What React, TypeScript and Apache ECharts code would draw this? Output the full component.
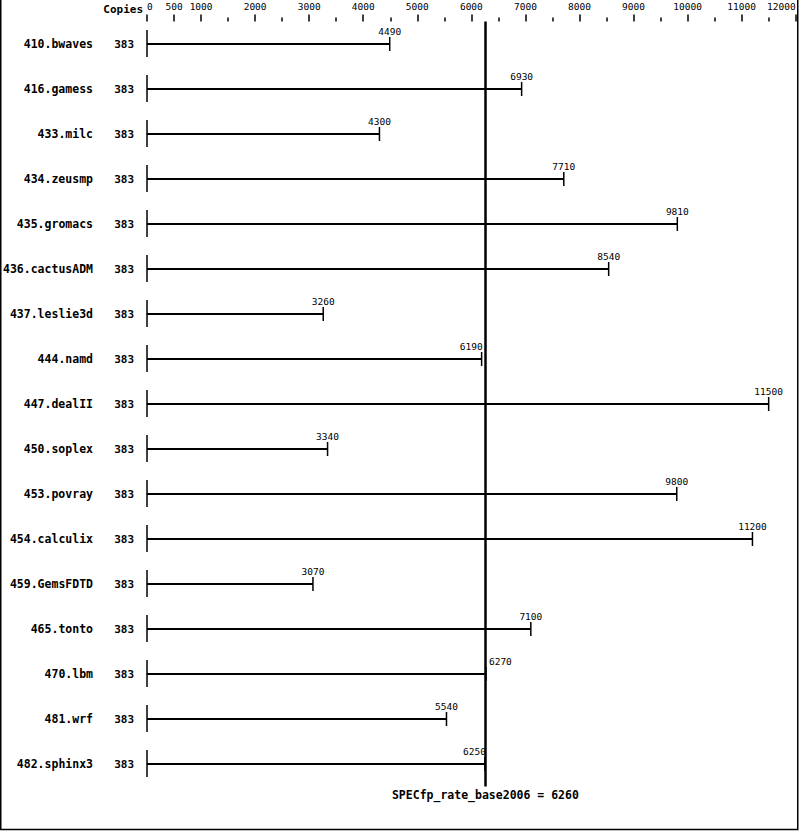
import React, { useEffect, useRef } from 'react';
import * as echarts from 'echarts';

const benchmarks = [
  '410.bwaves', '416.gamess', '433.milc', '434.zeusmp', '435.gromacs', '436.cactusADM',
  '437.leslie3d', '444.namd', '447.dealII', '450.soplex', '453.povray', '454.calculix',
  '459.GemsFDTD', '465.tonto', '470.lbm', '481.wrf', '482.sphinx3',
];
const copies = [383, 383, 383, 383, 383, 383, 383, 383, 383, 383, 383, 383, 383, 383, 383, 383, 383];
const ratios = [4490, 6930, 4300, 7710, 9810, 8540, 3260, 6190, 11500, 3340, 9800, 11200, 3070, 7100, 6270, 5540, 6250];
const tickLabels = [0, 500, 1000, 2000, 3000, 4000, 5000, 6000, 7000, 8000, 9000, 10000, 11000, 12000];
const minorTicks = [1500, 2500, 3500, 4500, 5500, 6500, 7500, 8500, 9500, 10500, 11500];
const baseScore = 6260;
const scoreName = 'SPECfp_rate_base2006';

const MONO = '"DejaVu Sans Mono", "Liberation Mono", monospace';

const App = () => {
  const chartRef = useRef<HTMLDivElement>(null);

  useEffect(() => {
    document.body.style.margin = '0';
    if (!chartRef.current) return;
    const chart = echarts.init(chartRef.current, undefined, { renderer: 'svg' });

    chart.setOption({
      animation: false,
      backgroundColor: '#fff',
      grid: { left: 147, right: 3.3, top: 21.5, bottom: 831 - 786.5 },
      xAxis: [
        {
          type: 'value',
          position: 'top',
          min: 0,
          max: 12000,
          axisLine: { show: false },
          splitLine: { show: false },
          axisTick: { show: true, customValues: tickLabels, length: 7, lineStyle: { color: '#000', width: 1.5 } },
          axisLabel: {
            customValues: tickLabels,
            margin: 10,
            color: '#000',
            fontFamily: MONO,
            fontSize: 9.5,
            alignMinLabel: 'left',
            alignMaxLabel: 'right',
            formatter: (v: number) => String(v),
          },
        },
        {
          type: 'value',
          position: 'top',
          min: 0,
          max: 12000,
          axisLine: { show: false },
          splitLine: { show: false },
          axisTick: { show: true, customValues: minorTicks, length: 4, lineStyle: { color: '#000', width: 1.5 } },
          axisLabel: { show: false },
        },
      ],
      yAxis: [
        {
          type: 'category',
          inverse: true,
          data: benchmarks,
          axisLine: { show: false },
          axisTick: { show: false },
          splitLine: { show: false },
          axisLabel: { margin: 54, color: '#000', fontFamily: MONO, fontSize: 11.5, fontWeight: 'bold' },
        },
        {
          type: 'category',
          inverse: true,
          position: 'left',
          data: benchmarks,
          axisLine: { show: false },
          axisTick: { show: false },
          splitLine: { show: false },
          axisLabel: {
            margin: 13,
            color: '#000',
            fontFamily: MONO,
            fontSize: 11,
            fontWeight: 'bold',
            formatter: (_v: string, i: number) => String(copies[i]),
          },
        },
      ],
      series: [
        {
          type: 'custom',
          xAxisIndex: 0,
          yAxisIndex: 0,
          data: ratios.map((v, i) => [v, i]),
          renderItem: (_params: any, api: any) => {
            const v = api.value(0);
            const c = api.value(1);
            const s = api.coord([0, c]);
            const e = api.coord([v, c]);
            let align = 'center';
            let tx = e[0];
            if (Math.abs(v - baseScore) < 300) {
              if (v < baseScore) { align = 'right'; tx = e[0] + 1; }
              else { align = 'left'; tx = e[0] + 3; }
            }
            return {
              type: 'group',
              children: [
                { type: 'line', shape: { x1: s[0], y1: s[1] - 14, x2: s[0], y2: s[1] + 13 }, style: { stroke: '#000', lineWidth: 1.5 } },
                { type: 'line', shape: { x1: s[0], y1: s[1], x2: e[0], y2: e[1] }, style: { stroke: '#000', lineWidth: 2 } },
                { type: 'line', shape: { x1: e[0], y1: e[1] - 7, x2: e[0], y2: e[1] + 7 }, style: { stroke: '#000', lineWidth: 1.5 } },
                {
                  type: 'text',
                  x: tx,
                  y: e[1] - 12.5,
                  style: {
                    text: String(v),
                    fill: '#000',
                    font: `9.5px ${MONO}`,
                    textAlign: align,
                    textVerticalAlign: 'middle',
                  },
                },
              ],
            };
          },
          markLine: {
            silent: true,
            symbol: 'none',
            label: { show: false },
            lineStyle: { color: '#000', width: 2.5, type: 'solid' },
            data: [{ xAxis: baseScore }],
          },
        },
      ],
    });

    const mx = chart.convertToPixel({ xAxisIndex: 0 }, baseScore) as number;
    chart.setOption({
      graphic: [
        {
          type: 'text',
          right: 799 - 143,
          top: 4,
          style: { text: 'Copies', fill: '#000', font: `bold 11px ${MONO}` },
        },
        {
          type: 'text',
          x: mx,
          y: 795,
          style: {
            text: `${scoreName} = ${baseScore}`,
            fill: '#000',
            font: `bold 11.5px ${MONO}`,
            textAlign: 'center',
            textVerticalAlign: 'middle',
          },
        },
        {
          type: 'polyline',
          shape: { points: [[0.75, 0], [0.75, 829.5], [797.75, 829.5], [797.75, 0]] },
          style: { stroke: '#000', lineWidth: 1.5, fill: 'none' },
        },
      ],
    });

    return () => {
      chart.dispose();
    };
  }, []);

  return <div ref={chartRef} style={{ width: 799, height: 831 }} />;
};

export default App;
